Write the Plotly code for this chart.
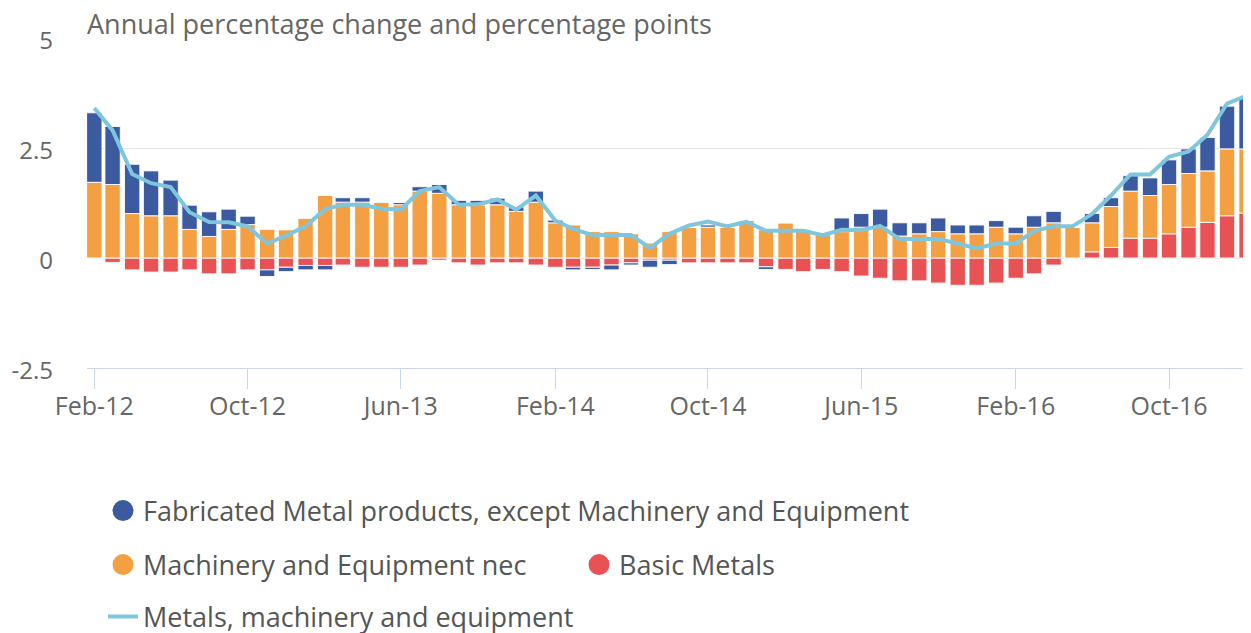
import pandas as pd
import plotly.graph_objects as go

# Monthly observations Feb-12 .. Feb-17
months = pd.date_range("2012-02-01", periods=61, freq="MS")

basic_metals = [
    0.00, -0.10, -0.27, -0.32, -0.32, -0.27, -0.36, -0.36, -0.27, -0.27,
    -0.21, -0.17, -0.17, -0.16, -0.21, -0.21, -0.21, -0.16, -0.05, -0.11,
    -0.16, -0.11, -0.11, -0.16, -0.21, -0.21, -0.21, -0.16, -0.11, -0.05,
    -0.05, -0.11, -0.11, -0.11, -0.11, -0.20, -0.26, -0.31, -0.26, -0.31,
    -0.41, -0.46, -0.52, -0.52, -0.57, -0.62, -0.62, -0.57, -0.46, -0.36,
    -0.16, 0.00, 0.14, 0.24, 0.45, 0.45, 0.55, 0.70, 0.81, 0.96,
    1.02,
]
machinery = [
    1.72, 1.67, 1.01, 0.96, 0.96, 0.65, 0.49, 0.65, 0.76, 0.65,
    0.64, 0.90, 1.42, 1.27, 1.27, 1.27, 1.21, 1.52, 1.47, 1.21,
    1.21, 1.21, 1.06, 1.27, 0.80, 0.75, 0.60, 0.60, 0.55, 0.34,
    0.60, 0.70, 0.70, 0.70, 0.86, 0.64, 0.80, 0.62, 0.55, 0.60,
    0.70, 0.70, 0.50, 0.55, 0.60, 0.55, 0.55, 0.70, 0.55, 0.70,
    0.80, 0.70, 0.66, 0.93, 1.07, 0.97, 1.12, 1.22, 1.17, 1.52,
    1.46,
]
fabricated = [
    1.58, 1.32, 1.12, 1.02, 0.81, 0.55, 0.56, 0.46, 0.19, -0.15,
    -0.10, -0.10, -0.10, 0.10, 0.10, 0.00, 0.05, 0.10, 0.20, 0.10,
    0.10, 0.15, 0.10, 0.25, 0.06, -0.06, -0.05, -0.11, -0.05, -0.16,
    -0.10, 0.00, 0.05, 0.00, 0.00, -0.06, 0.00, 0.02, 0.00, 0.31,
    0.31, 0.41, 0.30, 0.25, 0.31, 0.20, 0.20, 0.15, 0.15, 0.26,
    0.26, 0.00, 0.21, 0.20, 0.35, 0.40, 0.56, 0.56, 0.76, 0.97,
    1.18,
]
total = [
    3.41, 2.90, 1.91, 1.70, 1.61, 1.04, 0.82, 0.81, 0.72, 0.33,
    0.51, 0.72, 1.11, 1.21, 1.21, 1.12, 1.10, 1.52, 1.61, 1.21,
    1.22, 1.33, 1.10, 1.42, 0.85, 0.66, 0.52, 0.52, 0.52, 0.23,
    0.55, 0.74, 0.83, 0.72, 0.82, 0.62, 0.62, 0.62, 0.52, 0.64,
    0.63, 0.73, 0.43, 0.43, 0.43, 0.33, 0.22, 0.33, 0.33, 0.61,
    0.72, 0.72, 1.00, 1.42, 1.90, 1.90, 2.30, 2.42, 2.80, 3.51,
    3.69,
]

tick_dates = list(months[::8])
tick_labels = ["Feb-12", "Oct-12", "Jun-13", "Feb-14", "Oct-14", "Jun-15", "Feb-16", "Oct-16"]
y_ticks = [-2.5, 0, 2.5, 5]
y_tick_labels = ["-2.5", "0", "2.5", "5"]

names = [
    "Fabricated Metal products, except Machinery and Equipment",
    "Machinery and Equipment nec",
    "Basic Metals",
    "Metals, machinery and equipment",
]
C_BLUE = "#3b5aa0"
C_ORANGE = "#f59f43"
C_RED = "#e85254"
C_LINE = "#7ec6de"

fig = go.Figure()
bar_line = dict(color="rgba(255,255,255,0.9)", width=1)
fig.add_trace(go.Bar(x=months, y=basic_metals, name=names[2], marker=dict(color=C_RED, line=bar_line), showlegend=False))
fig.add_trace(go.Bar(x=months, y=machinery, name=names[1], marker=dict(color=C_ORANGE, line=bar_line), showlegend=False))
fig.add_trace(go.Bar(x=months, y=fabricated, name=names[0], marker=dict(color=C_BLUE, line=bar_line), showlegend=False))
fig.add_trace(go.Scatter(x=months, y=total, name=names[3], mode="lines",
                         line=dict(color=C_LINE, width=4), legend="legend4"))

# legend entries with round symbols
for nm, col, lg in [(names[0], C_BLUE, "legend"), (names[1], C_ORANGE, "legend2"), (names[2], C_RED, "legend3")]:
    fig.add_trace(go.Scatter(x=[None], y=[None], mode="markers", name=nm, legend=lg,
                             marker=dict(color=col, size=16, symbol="circle", line=dict(color=col, width=5))))

# the page body adds an 8 px offset; figure coordinates below compensate for it
OFF = 8
W, H = 1251, 633
L, R, T, B = 87 - OFF, OFF, 38 - OFF, 265 + OFF


def cx(px):
    return (px - OFF) / W


def cy(py):
    return 1 - (py - OFF) / H


legend_font = dict(family="Open Sans", size=27, color="#555555")
common_leg = dict(orientation="h", xanchor="left", yanchor="middle", font=legend_font,
                  xref="container", yref="container",
                  bgcolor="rgba(0,0,0,0)", borderwidth=0)

fig.update_layout(
    width=W, height=H,
    margin=dict(l=L, r=R, t=T, b=B, autoexpand=False),
    paper_bgcolor="white", plot_bgcolor="white",
    font=dict(family="Open Sans", color="#666666"),
    barmode="relative",
    bargap=0.13,
    title=dict(text="Annual percentage change and percentage points",
               font=dict(family="Open Sans", size=27, color="#666666"),
               x=0, xref="paper", xanchor="left",
               y=cy(25), yref="container", yanchor="middle"),
    legend=dict(x=cx(103), y=cy(511), **common_leg),
    legend2=dict(x=cx(103), y=cy(565), **common_leg),
    legend3=dict(x=cx(579), y=cy(565), **common_leg),
    legend4=dict(x=cx(103), y=cy(617), **common_leg),
    xaxis=dict(
        type="date",
        range=["2012-01-20 10:00", "2017-02-08"],
        tickvals=tick_dates, ticktext=tick_labels,
        showgrid=False, showline=True, linecolor="#ccd6eb", linewidth=1,
        ticks="outside", ticklen=20, tickcolor="#ccd6eb", tickwidth=1,
        ticklabelstandoff=-4,
        tickfont=dict(family="Open Sans", size=25, color="#666666"),
        zeroline=False, automargin=False,
    ),
    yaxis=dict(
        range=[-2.5, 5],
        tickvals=y_ticks, ticktext=y_tick_labels,
        showgrid=True, gridcolor="#e6e6e6", gridwidth=1,
        zeroline=False, showline=False, ticks="",
        ticklabelstandoff=33, ticklabelshift=3,
        tickfont=dict(family="Open Sans", size=24, color="#666666"),
        automargin=False,
    ),
)

fig.write_html("out.html")
